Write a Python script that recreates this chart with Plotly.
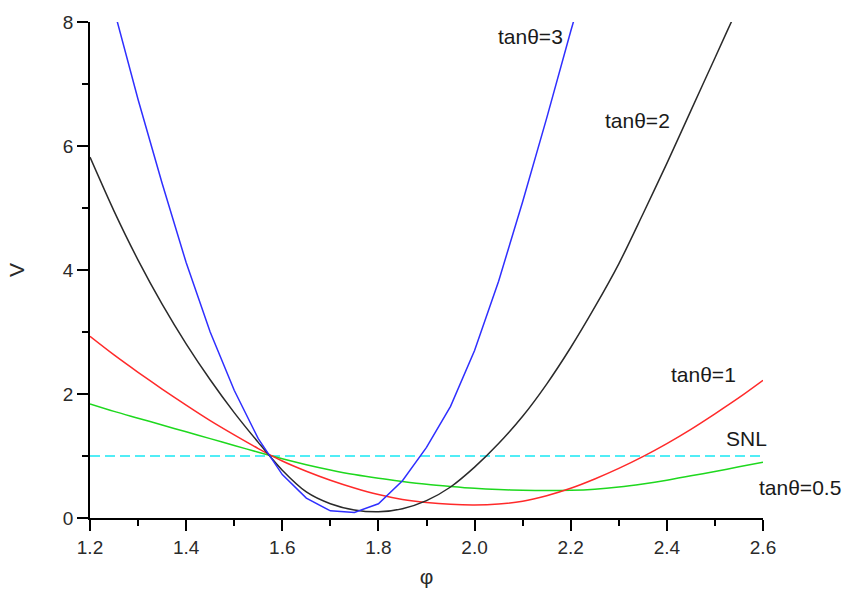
import plotly.graph_objects as go

phi = [1.20, 1.25, 1.30, 1.35, 1.40, 1.45, 1.50, 1.55, 1.60, 1.65, 1.70, 1.75, 1.80,
       1.85, 1.90, 1.95, 2.00, 2.05, 2.10, 2.15, 2.20, 2.25, 2.30, 2.35, 2.40, 2.45,
       2.50, 2.55, 2.60]

v_tan05 = [1.84, 1.72, 1.61, 1.50, 1.39, 1.28, 1.17, 1.06, 0.955, 0.86, 0.775, 0.70, 0.64,
           0.59, 0.545, 0.51, 0.48, 0.46, 0.447, 0.442, 0.447, 0.465, 0.50, 0.55, 0.61, 0.68,
           0.75, 0.825, 0.90]
v_tan1 = [2.93, 2.63, 2.35, 2.08, 1.82, 1.57, 1.34, 1.12, 0.92, 0.755, 0.61, 0.485, 0.38,
          0.30, 0.25, 0.22, 0.21, 0.225, 0.27, 0.36, 0.48, 0.63, 0.80, 0.99, 1.20, 1.43,
          1.68, 1.94, 2.22]
v_tan2 = [5.82, 4.95, 4.16, 3.45, 2.81, 2.23, 1.70, 1.22, 0.77, 0.42, 0.23, 0.13, 0.10,
          0.15, 0.28, 0.50, 0.82, 1.20, 1.64, 2.16, 2.75, 3.40, 4.10, 4.90, 5.72, 6.57,
          7.42, 8.27, 9.10]
v_tan3 = [9.80, 8.20, 6.75, 5.40, 4.12, 3.00, 2.06, 1.28, 0.70, 0.32, 0.115, 0.09, 0.23,
          0.60, 1.14, 1.80, 2.70, 3.82, 5.10, 6.45, 7.85, 9.20, None, None, None, None,
          None, None, None]
snl_x = [1.2, 2.6]
snl_v = [1.0, 1.0]

labels = ["tan\u03b8=3", "tan\u03b8=2", "tan\u03b8=1", "SNL", "tan\u03b8=0.5"]
label_pos = [(0.655, 0.970), (0.814, 0.801), (0.911, 0.290), (0.976, 0.161), (1.055, 0.0625)]

x_ticks = [1.2, 1.4, 1.6, 1.8, 2.0, 2.2, 2.4, 2.6]
y_ticks = [0, 2, 4, 6, 8]

FONT = "Liberation Sans, Arial"

fig = go.Figure()
fig.add_trace(go.Scatter(x=snl_x, y=snl_v, mode="lines", name="SNL",
                         line=dict(color="#18e8f4", width=1.6, dash="10px,5px")))
fig.add_trace(go.Scatter(x=phi, y=v_tan05, mode="lines", name="tan\u03b8=0.5",
                         line=dict(color="#1ed81e", width=1.5, shape="spline", smoothing=0.8)))
fig.add_trace(go.Scatter(x=phi, y=v_tan1, mode="lines", name="tan\u03b8=1",
                         line=dict(color="#ff2a2a", width=1.5, shape="spline", smoothing=0.8)))
fig.add_trace(go.Scatter(x=phi, y=v_tan2, mode="lines", name="tan\u03b8=2",
                         line=dict(color="#2a2a2a", width=1.5, shape="spline", smoothing=0.8)))
fig.add_trace(go.Scatter(x=phi, y=v_tan3, mode="lines", name="tan\u03b8=3",
                         line=dict(color="#2f2fff", width=1.5)))

for txt, (px, py) in zip(labels, label_pos):
    fig.add_annotation(x=px, y=py, xref="paper", yref="paper", text=txt,
                       showarrow=False, xanchor="center", yanchor="middle",
                       font=dict(family=FONT, size=21, color="#1a1a1a"))

axis_common = dict(showgrid=False, zeroline=False, showline=True, linecolor="black",
                   linewidth=1.6, ticks="outside", ticklen=11, tickwidth=1.6,
                   tickcolor="black",
                   tickfont=dict(family=FONT, size=19, color="#2a2a2a"))

fig.update_layout(
    width=850, height=599,
    margin=dict(l=90, r=87, t=17, b=81),
    paper_bgcolor="white", plot_bgcolor="white",
    showlegend=False,
    xaxis=dict(range=[1.2, 2.6], tickvals=x_ticks, ticktext=[f"{v:.1f}" for v in x_ticks],
               minor=dict(ticks="outside", ticklen=6, dtick=0.1, tick0=1.2,
                          tickwidth=1.6, tickcolor="black"),
               title=dict(text="\u03c6", standoff=13,
                          font=dict(family=FONT, size=21, color="#2a2a2a")),
               **axis_common),
    yaxis=dict(range=[0, 8], tickvals=y_ticks,
               minor=dict(ticks="outside", ticklen=6, dtick=1, tick0=0,
                          tickwidth=1.6, tickcolor="black"),
               title=dict(text="V", standoff=32,
                          font=dict(family=FONT, size=21, color="#2a2a2a")),
               **axis_common),
)

fig.write_html("out.html")
